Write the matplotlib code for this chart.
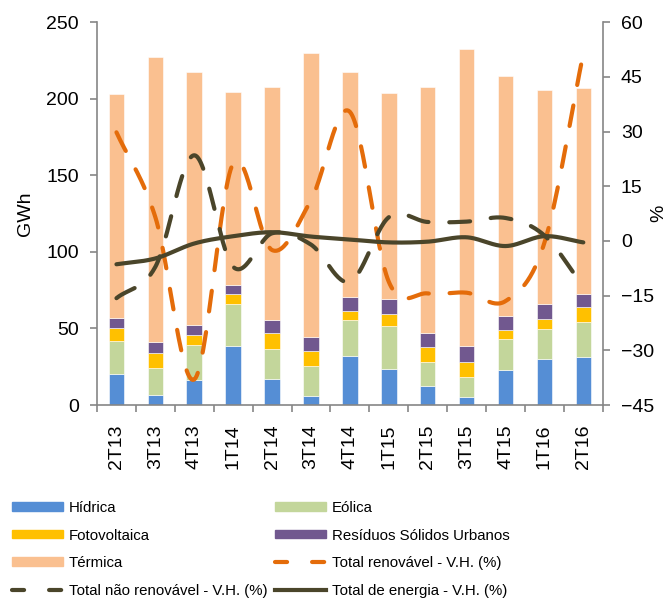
import numpy as np
import matplotlib
matplotlib.use("Agg")
import matplotlib.pyplot as plt
from matplotlib.lines import Line2D
from matplotlib.patches import Patch

plt.rcParams['font.family'] = ['Liberation Sans', 'DejaVu Sans']

categories = ["2T13", "3T13", "4T13", "1T14", "2T14", "3T14", "4T14",
              "1T15", "2T15", "3T15", "4T15", "1T16", "2T16"]
hidrica = [20.2, 6.5, 16.3, 38.5, 16.8, 6.1, 32.0, 23.5, 12.6, 5.0, 22.6, 30.0, 31.5]
eolica = [21.4, 17.7, 22.7, 27.4, 19.8, 19.6, 23.3, 28.3, 15.2, 13.3, 20.5, 19.6, 22.9]
fotovoltaica = [8.7, 9.9, 6.5, 6.6, 10.4, 9.7, 6.1, 7.6, 10.1, 10.0, 5.9, 6.5, 9.4]
rsu = [6.5, 7.0, 6.5, 5.8, 8.5, 9.2, 9.3, 9.8, 9.3, 10.4, 9.3, 10.0, 8.9]
termica = [146.2, 185.9, 165.4, 126.0, 152.1, 185.6, 147.1, 134.5, 160.2, 193.9, 156.7, 139.5, 134.2]

total_renovavel = [29.8, 6.5, -38.0, 21.3, -2.5, 11.2, 35.4, -11.2, -14.4, -14.2, -16.5, -0.5, 51.4]
total_nao_renovavel = [-15.7, -7.1, 23.5, -7.1, 2.1, -1.0, -11.2, 6.5, 5.2, 5.3, 6.3, 1.5, -12.5]
total_energia = [-6.4, -4.8, -0.7, 1.3, 2.4, 1.2, 0.4, -0.4, -0.2, 1.0, -1.4, 1.3, -0.4]

c_hid = "#558ED5"
c_eol = "#C3D69B"
c_fot = "#FFC000"
c_rsu = "#71588F"
c_ter = "#FAC090"
c_ren = "#E46C0A"
c_dark = "#4A452A"
grey = "#868686"


def smooth(xs, ys, n=30):
    xs = np.asarray(xs, float)
    ys = np.asarray(ys, float)
    P = np.column_stack([xs, ys])
    P = np.vstack([P[0] - (P[1] - P[0]), P, P[-1] + (P[-1] - P[-2])])
    out = []
    t = np.linspace(0, 1, n, endpoint=False)
    for i in range(1, len(P) - 2):
        p0, p1, p2, p3 = P[i - 1], P[i], P[i + 1], P[i + 2]
        m1 = (p2 - p0) / 2.0
        m2 = (p3 - p1) / 2.0
        h00 = 2 * t**3 - 3 * t**2 + 1
        h10 = t**3 - 2 * t**2 + t
        h01 = -2 * t**3 + 3 * t**2
        h11 = t**3 - t**2
        seg = (h00[:, None] * p1 + h10[:, None] * m1 + h01[:, None] * p2 + h11[:, None] * m2)
        out.append(seg)
    out.append(P[-2][None, :])
    out = np.vstack(out)
    return out[:, 0], out[:, 1]


fs = 14
fig = plt.figure(figsize=(6.69, 6.0), dpi=100)
ax = fig.add_axes([0.145, 0.325, 0.756, 0.638])
x = np.arange(len(categories))
w = 0.4

bottom = np.zeros(len(x))
for vals, col in [(hidrica, c_hid), (eolica, c_eol), (fotovoltaica, c_fot), (rsu, c_rsu), (termica, c_ter)]:
    ax.bar(x, vals, w, bottom=bottom, color=col, edgecolor='white', linewidth=0.4, zorder=2)
    bottom += np.asarray(vals)

ax.set_ylim(0, 250)
ax.set_xlim(-0.5, len(x) - 0.5)
ax.set_yticks([0, 50, 100, 150, 200, 250])
ax.set_xticks(x)
ax.set_xticklabels(categories, rotation=90, fontsize=fs)
ax.set_xticks(np.arange(-0.5, len(x), 1.0), minor=True)
ax.tick_params(axis='x', which='major', length=0, pad=14)
ax.tick_params(axis='x', which='minor', length=5, color=grey, width=1.2)
ax.tick_params(axis='y', length=5, color=grey, width=1.2, labelsize=fs, pad=8)
ax.set_ylabel("GWh", fontsize=fs, labelpad=9)
for s in ['top', 'right']:
    ax.spines[s].set_visible(False)
for s in ['left', 'bottom']:
    ax.spines[s].set_color(grey)
    ax.spines[s].set_linewidth(1.2)

ax2 = ax.twinx()
ax2.set_ylim(-45, 60)
ax2.set_yticks([-45, -30, -15, 0, 15, 30, 45, 60])
ax2.tick_params(axis='y', length=5, color=grey, width=1.2, labelsize=fs, pad=8)
ax2.set_ylabel("%", fontsize=fs, labelpad=-3)
for s in ['top', 'left', 'bottom']:
    ax2.spines[s].set_visible(False)
ax2.spines['right'].set_color(grey)
ax2.spines['right'].set_linewidth(1.2)

dash = (5.0, 5.0)
sx, sy = smooth(x, total_renovavel)
ax2.plot(sx, sy, color=c_ren, lw=3.0, dashes=dash, dash_capstyle='round', zorder=3)
sx, sy = smooth(x, total_nao_renovavel)
ax2.plot(sx, sy, color=c_dark, lw=3.0, dashes=dash, dash_capstyle='round', zorder=3)
sx, sy = smooth(x, total_energia)
ax2.plot(sx, sy, color=c_dark, lw=3.0, solid_capstyle='round', zorder=4)

ldash = (2.9, 6.0)
col1 = [
    Patch(color=c_hid, label="Hídrica"),
    Patch(color=c_fot, label="Fotovoltaica"),
    Patch(color=c_ter, label="Térmica"),
    Line2D([], [], color=c_dark, lw=3.0, dashes=ldash, dash_capstyle='round', label="Total não renovável - V.H. (%)"),
]
col2 = [
    Patch(color=c_eol, label="Eólica"),
    Patch(color=c_rsu, label="Resíduos Sólidos Urbanos"),
    Line2D([], [], color=c_ren, lw=3.0, dashes=ldash, dash_capstyle='round', label="Total renovável - V.H. (%)"),
    Line2D([], [], color=c_dark, lw=3.0, label="Total de energia - V.H. (%)"),
]
lkw = dict(loc='upper left', frameon=False, fontsize=10.8, handlelength=3.4, handleheight=0.5,
           handletextpad=0.4, labelspacing=0.9, borderaxespad=0, borderpad=0)
leg1 = fig.legend(handles=col1, bbox_to_anchor=(12 / 669, 1 - 501 / 600), **lkw)
leg2 = fig.legend(handles=col2, bbox_to_anchor=(275 / 669, 1 - 501 / 600), **lkw)

fig.savefig("out.png", dpi=100)
